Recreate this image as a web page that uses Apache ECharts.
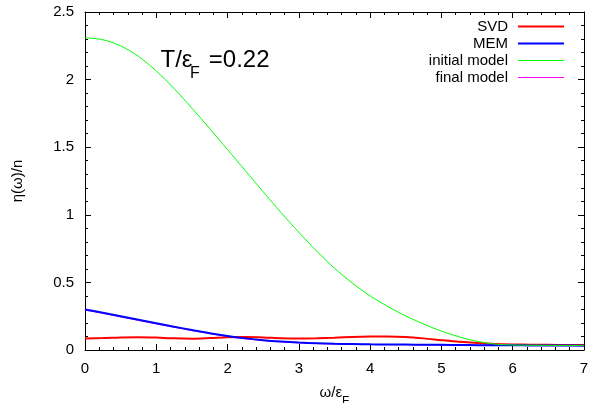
<!DOCTYPE html>
<html>
<head>
<meta charset="utf-8">
<script src="https://cdn.jsdelivr.net/npm/echarts@6/dist/echarts.min.js"></script>
<style>
html,body{margin:0;padding:0;background:#fff;}
#chart{width:590px;height:403px;}
</style>
</head>
<body>
<div id="chart"></div>
<script>
// ---- data ----
const omega = [0,0.25,0.5,0.75,1,1.25,1.5,1.75,2,2.25,2.5,2.75,3,3.25,3.5,3.75,4,4.25,4.5,4.75,5,5.25,5.5,5.75,6,6.25,6.5,6.75,7];
const svd = [0.085,0.088,0.093,0.095,0.092,0.086,0.084,0.088,0.094,0.096,0.093,0.087,0.085,0.087,0.091,0.096,0.099,0.100,0.096,0.086,0.073,0.061,0.052,0.045,0.041,0.039,0.038,0.037,0.037];
const mem = [0.300,0.276,0.250,0.224,0.198,0.172,0.148,0.124,0.103,0.086,0.072,0.062,0.055,0.050,0.046,0.044,0.042,0.041,0.040,0.039,0.038,0.037,0.036,0.035,0.035,0.034,0.033,0.033,0.032];
const initialModel = [2.310,2.295,2.250,2.172,2.064,1.934,1.789,1.637,1.482,1.326,1.170,1.017,0.870,0.732,0.605,0.495,0.400,0.321,0.252,0.192,0.140,0.097,0.064,0.044,0.037,0.035,0.034,0.033,0.033];
const finalModel = [0.295,0.271,0.245,0.219,0.193,0.168,0.144,0.121,0.100,0.083,0.070,0.060,0.053,0.048,0.045,0.043,0.041,0.040,0.039,0.038,0.037,0.036,0.035,0.035,0.034,0.034,0.033,0.032,0.032];
const seriesNames = ['SVD','MEM','initial model','final model'];
const xTicks = {min:0, max:7, interval:1};
const yTicks = {min:0, max:2.5, interval:0.5};

const FONT = "'Liberation Sans', Arial, Helvetica, sans-serif";
const pairs = (ys) => omega.map((x,i)=>[x, ys[i]]);

function axisCommon(show){
  return {
    axisLine:{show:true, onZero:false, lineStyle:{color:'#000', width:1}},
    axisTick:{show:true, inside:true, length:6, lineStyle:{color:'#000', width:1}},
    minorTick:{show:true, splitNumber:5, length:3, lineStyle:{color:'#000', width:1}},
    splitLine:{show:false},
    minorSplitLine:{show:false},
    axisLabel:{show:show, color:'#000', fontSize:15, fontFamily:FONT, margin:11}
  };
}

const chart = echarts.init(document.getElementById('chart'), null, {renderer:'canvas'});

const legendTops = [19, 36, 53, 70];
const legendIconH = [2, 2, 1, 1];
const legends = seriesNames.map((n,i)=>({
  data:[n], orient:'vertical', right:26, top:legendTops[i], padding:0,
  align:'right', icon:'rect', itemWidth:46, itemHeight:legendIconH[i], selectedMode:false,
  textStyle:{fontSize:15, fontFamily:FONT, color:'#000', padding:[0,5,0,0]}
}));

chart.setOption({
  animation:false,
  backgroundColor:'#fff',
  grid:{left:85, right:6, top:12, bottom:53, containLabel:false, outerBoundsMode:'none'},
  legend: legends,
  xAxis:[
    Object.assign({type:'value', position:'bottom', min:xTicks.min, max:xTicks.max, interval:xTicks.interval,
      name:'{a|ω/ε}{b|F}', nameLocation:'middle', nameGap:35,
      nameTextStyle:{color:'#000', fontFamily:FONT, fontSize:15,
        rich:{a:{fontSize:15, lineHeight:15, verticalAlign:'top', fontFamily:FONT, color:'#000'},
              b:{fontSize:12, lineHeight:23, padding:[11,0,0,0], verticalAlign:'bottom', fontFamily:FONT, color:'#000'}}}
    }, axisCommon(true)),
    Object.assign({type:'value', position:'top', min:xTicks.min, max:xTicks.max, interval:xTicks.interval}, axisCommon(false))
  ],
  yAxis:[
    Object.assign({type:'value', position:'left', min:yTicks.min, max:yTicks.max, interval:yTicks.interval,
      name:'η(ω)/n', nameLocation:'middle', nameGap:60, nameRotate:90,
      nameTextStyle:{color:'#000', fontFamily:FONT, fontSize:15}
    }, axisCommon(true)),
    Object.assign({type:'value', position:'right', min:yTicks.min, max:yTicks.max, interval:yTicks.interval}, axisCommon(false))
  ],
  graphic:[
    {type:'text', x:160.5, y:60.5, silent:true,
     style:{text:'T/ε', fill:'#000', font:'24px ' + FONT, align:'left', verticalAlign:'middle'}},
    {type:'text', x:190, y:74, silent:true,
     style:{text:'F', fill:'#000', font:'16px ' + FONT, align:'left', verticalAlign:'middle'}},
    {type:'text', x:269.5, y:60.5, silent:true,
     style:{text:'=0.22', fill:'#000', font:'24px ' + FONT, align:'right', verticalAlign:'middle'}}
  ],
  series:[
    {name:'SVD', type:'line', data:pairs(svd), smooth:0.3, symbol:'none', color:'#ff0000', lineStyle:{color:'#ff0000', width:2}, z:3},
    {name:'MEM', type:'line', data:pairs(mem), smooth:0.3, symbol:'none', color:'#0000ff', lineStyle:{color:'#0000ff', width:2}, z:4},
    {name:'initial model', type:'line', data:pairs(initialModel), smooth:0.3, symbol:'none', color:'#00ff00', lineStyle:{color:'#00ff00', width:1}, z:5},
    {name:'final model', type:'line', data:pairs(finalModel), smooth:0.3, symbol:'none', color:'#ff00ff', lineStyle:{color:'#ff00ff', width:1}, z:2}
  ]
});
</script>
</body>
</html>
